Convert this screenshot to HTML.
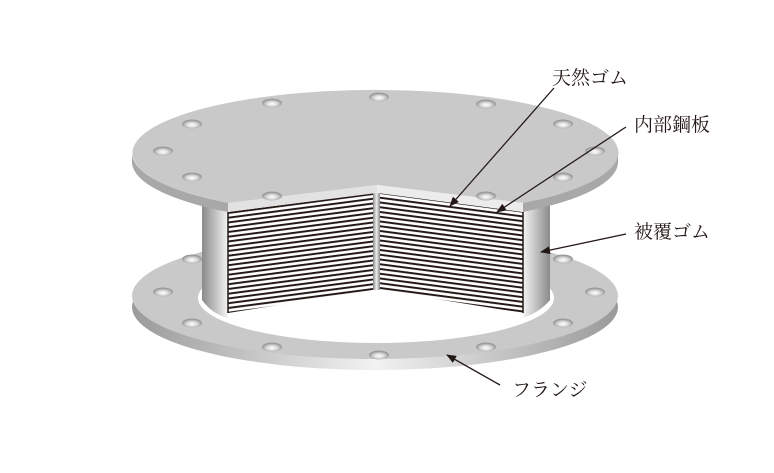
<!DOCTYPE html>
<html><head><meta charset="utf-8"><style>
html,body{margin:0;padding:0;background:#fff;}
svg{display:block}
text{font-family:"Liberation Serif","Noto Serif CJK SC","Noto Serif CJK JP",serif;font-size:19px;fill:#231815}
</style></head><body>
<svg width="774" height="473" viewBox="0 0 774 473" xmlns="http://www.w3.org/2000/svg">
<defs>
<linearGradient id="side" x1="0" x2="1" y1="0" y2="0">
<stop offset="0" stop-color="#9a9a9a"/><stop offset="0.5" stop-color="#f2f2f2"/><stop offset="1" stop-color="#9a9a9a"/>
</linearGradient>
<linearGradient id="cylL" x1="0" x2="1"><stop offset="0" stop-color="#8a8a8a"/><stop offset="1" stop-color="#f4f4f4"/></linearGradient>
<linearGradient id="cylR" x1="0" x2="1"><stop offset="0" stop-color="#f4f4f4"/><stop offset="1" stop-color="#8a8a8a"/></linearGradient>
<linearGradient id="post" x1="0" x2="1"><stop offset="0" stop-color="#888"/><stop offset="0.5" stop-color="#eee"/><stop offset="1" stop-color="#888"/></linearGradient>
<radialGradient id="hole" cy="0.6"><stop offset="0" stop-color="#fff"/><stop offset="0.5" stop-color="#dcdcdc"/><stop offset="1" stop-color="#999"/></radialGradient>
<pattern id="stL" patternUnits="userSpaceOnUse" width="400" height="4.75" patternTransform="translate(0,212) skewY(-7.47)">
<rect width="400" height="4.75" fill="#fff"/><rect y="1.4" width="400" height="2" fill="#231815"/>
</pattern>
<pattern id="stR" patternUnits="userSpaceOnUse" width="400" height="4.75" patternTransform="translate(0,193) skewY(7.47)">
<rect width="400" height="4.75" fill="#fff"/><rect y="1.4" width="400" height="2" fill="#231815"/>
</pattern>
<marker id="ar" markerWidth="10" markerHeight="8" refX="9" refY="4" orient="auto" markerUnits="userSpaceOnUse">
<path d="M0,0 L10,4 L0,8 z" fill="#231815"/>
</marker>
</defs>

<!-- bottom flange -->
<ellipse cx="375" cy="307" rx="243" ry="63" fill="url(#side)"/>
<ellipse cx="375" cy="296" rx="243" ry="63" fill="#c9c9c9"/>
<ellipse cx="376" cy="298" rx="178" ry="45" fill="#fff"/>
<g fill="url(#hole)">
<ellipse cx="192" cy="259" rx="10" ry="4.5"/><ellipse cx="563" cy="259" rx="10" ry="4.5"/>
<ellipse cx="163" cy="292" rx="10" ry="4.5"/><ellipse cx="595" cy="292" rx="10" ry="4.5"/>
<ellipse cx="192" cy="323" rx="10" ry="4.5"/><ellipse cx="563" cy="323" rx="10" ry="4.5"/>
<ellipse cx="272" cy="347" rx="10" ry="4.5"/><ellipse cx="486" cy="347" rx="10" ry="4.5"/>
<ellipse cx="379" cy="355" rx="10" ry="4.5"/>
</g>

<!-- cylinder sides -->
<path d="M202,200 L228,200 L228,318 Q212,314 202,300 z" fill="url(#cylL)"/>
<path d="M523,200 L550,200 L550,300 Q540,312 523,318 z" fill="url(#cylR)"/>

<!-- cut faces -->
<polygon points="228,212 373,193 373,290 228,313" fill="url(#stL)"/>
<polygon points="380,193 523,212 523,313 380,290" fill="url(#stR)"/>
<line x1="228" y1="212" x2="228" y2="313" stroke="#231815" stroke-width="1.5"/>
<line x1="523" y1="212" x2="523" y2="313" stroke="#231815" stroke-width="1.5"/>
<rect x="373" y="190" width="7" height="100" fill="url(#post)"/>

<!-- top plate -->
<path d="M228,203 A243,63 0 1 1 523,203 L377,185 z" fill="#c9c9c9"/>
<path d="M132,153 A243,63 0 0 0 228,203 L228,212 A243,63 0 0 1 132,163 z" fill="#a8a8a8"/>
<path d="M618,153 A243,63 0 0 1 523,203 L523,212 A243,63 0 0 0 618,163 z" fill="#a8a8a8"/>
<polygon points="228,203 377,185 377,193 228,212" fill="#e2e2e2"/>
<polygon points="377,185 523,203 523,212 377,193" fill="#ececec"/>
<g fill="url(#hole)">
<ellipse cx="272" cy="103" rx="10" ry="4.5"/><ellipse cx="379" cy="97" rx="10" ry="4.5"/>
<ellipse cx="486" cy="104" rx="10" ry="4.5"/><ellipse cx="563" cy="124" rx="10" ry="4.5"/>
<ellipse cx="192" cy="124" rx="10" ry="4.5"/><ellipse cx="163" cy="151" rx="10" ry="4.5"/>
<ellipse cx="595" cy="151" rx="10" ry="4.5"/><ellipse cx="192" cy="177" rx="10" ry="4.5"/>
<ellipse cx="563" cy="177" rx="10" ry="4.5"/><ellipse cx="272" cy="196" rx="10" ry="4.5"/>
<ellipse cx="486" cy="196" rx="10" ry="4.5"/>
</g>

<!-- leaders -->
<g stroke="#231815" stroke-width="1.3" fill="none" marker-end="url(#ar)">
<line x1="554" y1="88" x2="450" y2="206"/>
<line x1="626" y1="127" x2="497" y2="212"/>
<line x1="626" y1="234" x2="541" y2="252"/>
<line x1="500" y1="385" x2="447" y2="355"/>
</g>

<text x="552" y="84">天然ゴム</text>
<text x="634" y="131">内部鋼板</text>
<text x="634" y="238">被覆ゴム</text>
<text x="512" y="396">フランジ</text>
</svg>
</body></html>
